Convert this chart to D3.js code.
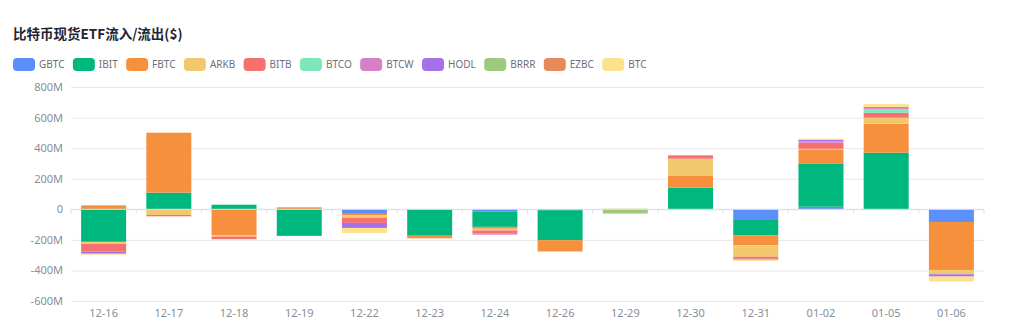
<!DOCTYPE html>
<html>
<head>
<meta charset="utf-8">
<script src="https://cdn.jsdelivr.net/npm/d3@7"></script>
<style>
  html, body { margin: 0; padding: 0; background: #fff; }
  svg { display: block; }
</style>
</head>
<body>
<svg id="chart" width="1020" height="321"></svg>
<script>
// ---- data (values in millions USD) ----
const categories = ["12-16","12-17","12-18","12-19","12-22","12-23","12-24","12-26","12-29","12-30","12-31","01-02","01-05","01-06"];
const seriesNames = ["GBTC","IBIT","FBTC","ARKB","BITB","BTCO","BTCW","HODL","BRRR","EZBC","BTC"];
const GBTC = [0, 0, 0, 0, -30, -3, -15, -6, 0, 0, -70, 17, 0, -83];
const IBIT = [-213, 109, 30, -174, 0, -170, -100, -196, 0, 142, -100, 283, 370, 0];
const FBTC = [26, 392, -170, 13, -8, -17, -12, -74, 0, 76, -65, 88, 190, -314];
const ARKB = [-13, -37, -9, 0, -18, 0, -12, 0, 4, 113, -76, 8, 39, -28];
const BITB = [-50, -9, -17, 0, -33, 0, -17, 0, 0, 22, -13, 39, 33, 0];
const BTCO = [0, 0, 0, 0, 0, 0, 0, 0, 0, 0, 0, 0, 22, 0];
const BTCW = [0, 0, 0, 0, 0, 0, -10, 0, 0, 0, -6, 10, 8, 0];
const HODL = [-15, 0, 0, 0, -33, 0, 0, 0, 0, 0, 0, 10, 0, -15];
const BRRR = [0, 0, 0, 0, 0, 0, 0, 0, -28, 0, 0, 0, 0, 0];
const EZBC = [0, 0, 0, 0, 0, 0, 0, 0, 0, 0, 0, 0, 9, 0];
const BTC  = [-6, 0, 0, 0, -33, 0, 0, 0, 0, 0, -7, 8, 17, -33];
const yTicks = [-600, -400, -200, 0, 200, 400, 600, 800];
const colors = ["#5B8FF9","#00B77D","#F6903D","#F2C86E","#F6706D","#7DE6BC","#D880C6","#A670E8","#9CCB7E","#E8895C","#FDE28E"];
const title = "比特币现货ETF流入/流出($)";

const seriesValues = [GBTC, IBIT, FBTC, ARKB, BITB, BTCO, BTCW, HODL, BRRR, EZBC, BTC];
const table = categories.map((c, i) => {
  const row = { cat: c };
  seriesNames.forEach((s, j) => row[s] = seriesValues[j][i]);
  return row;
});

const svg = d3.select("#chart");
const W = 1020, H = 321;
const margin = { top: 87, right: 36, bottom: 20, left: 71 };
const x = d3.scaleBand().domain(categories).range([margin.left, W - margin.right]).paddingInner(0.31).paddingOuter(0.155);
const y = d3.scaleLinear().domain([-600, 800]).range([H - margin.bottom, margin.top]);
const fmt = v => v === 0 ? "0" : v + "M";

// title
svg.append("text").attr("x", 13).attr("y", 39)
  .attr("font-family", "'Noto Sans CJK SC', 'Noto Sans', sans-serif")
  .attr("font-size", 13.5).attr("font-weight", "bold").attr("fill", "#1f2533")
  .text(title);

// legend
const lg = svg.append("g").attr("font-family", "'Noto Sans', sans-serif").attr("font-size", 10);
let lx = 13;
seriesNames.forEach((s, i) => {
  lg.append("rect").attr("x", lx).attr("y", 58).attr("width", 22).attr("height", 13)
    .attr("rx", 4).attr("fill", colors[i]);
  const t = lg.append("text").attr("x", lx + 26).attr("y", 68).attr("fill", "#6e7079").text(s);
  const w = t.node().getComputedTextLength();
  lx += 26 + w + 8.4;
});

// grid + y labels
const yAxis = d3.axisLeft(y).tickValues(yTicks).tickFormat(fmt).tickSize(-(W - margin.left - margin.right)).tickPadding(8);
const gy = svg.append("g").attr("transform", `translate(${margin.left},0)`).call(yAxis);
gy.select(".domain").remove();
gy.selectAll(".tick line").attr("stroke", "#e6e8ed").attr("stroke-width", 1);
gy.selectAll(".tick text").attr("fill", "#8a8e99").attr("font-size", 11)
  .attr("font-family", "'Noto Sans', sans-serif");

// bars
const stack = d3.stack().keys(seriesNames).offset(d3.stackOffsetDiverging);
const layers = stack(table);
const gb = svg.append("g");
layers.forEach((layer, i) => {
  gb.append("g").attr("fill", colors[i])
    .selectAll("rect").data(layer).join("rect")
    .attr("x", d => x(d.data.cat))
    .attr("width", x.bandwidth())
    .attr("y", d => y(Math.max(d[0], d[1])))
    .attr("height", d => Math.abs(y(d[0]) - y(d[1])));
});

// x axis on zero line with ticks between categories
const step = x.step();
const boundaries = [];
for (let i = 0; i <= categories.length; i++) boundaries.push(margin.left + i * step);
const gx = svg.append("g");
gx.append("line").attr("x1", margin.left).attr("x2", W - margin.right)
  .attr("y1", y(0)).attr("y2", y(0)).attr("stroke", "#dcdfe6");
gx.selectAll("line.tk").data(boundaries).join("line").attr("class", "tk")
  .attr("x1", d => d).attr("x2", d => d).attr("y1", y(0)).attr("y2", y(0) + 4)
  .attr("stroke", "#dcdfe6");

// x labels at bottom
const xAxis = d3.axisBottom(x).tickSize(0).tickPadding(8);
const gxl = svg.append("g").attr("transform", `translate(0,${H - margin.bottom})`).call(xAxis);
gxl.select(".domain").remove();
gxl.selectAll(".tick text").attr("fill", "#8a8e99").attr("font-size", 11)
  .attr("font-family", "'Noto Sans', sans-serif");
</script>
</body>
</html>
